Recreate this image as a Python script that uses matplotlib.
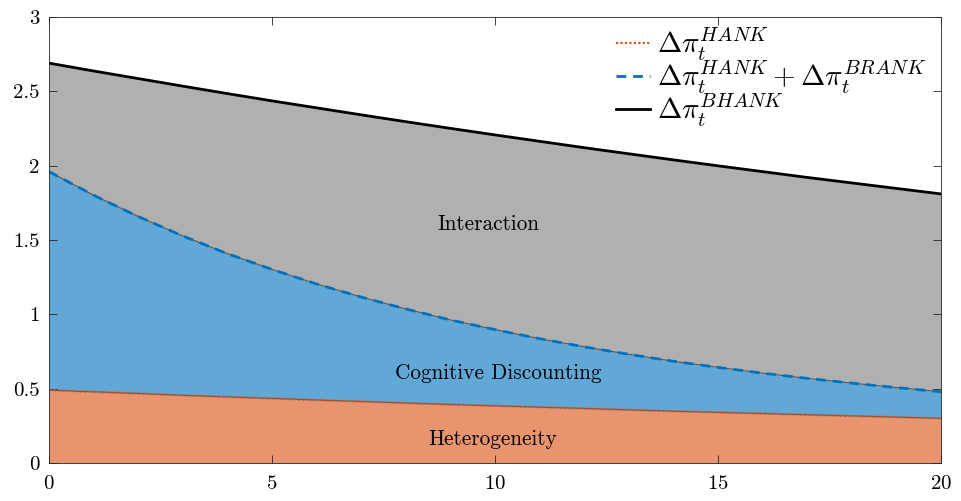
import numpy as np
import matplotlib
matplotlib.use("Agg")
import matplotlib.pyplot as plt

plt.rcParams['font.family'] = 'serif'
plt.rcParams['font.serif'] = ['cmr10', 'DejaVu Serif']
plt.rcParams['mathtext.fontset'] = 'cm'
plt.rcParams['axes.formatter.use_mathtext'] = True

# -----------------------------
# Data
# -----------------------------
periods = np.arange(0, 21)

hank = [0.490, 0.478, 0.467, 0.455, 0.444, 0.434, 0.423, 0.413, 0.403, 0.393, 0.384,
        0.375, 0.366, 0.357, 0.348, 0.340, 0.332, 0.324, 0.316, 0.308, 0.300]

hank_plus_brank = [1.960, 1.801, 1.658, 1.527, 1.408, 1.302, 1.204, 1.116, 1.036, 0.962, 0.897,
                   0.836, 0.781, 0.731, 0.684, 0.643, 0.604, 0.569, 0.537, 0.507, 0.479]

bhank = [2.690, 2.637, 2.586, 2.535, 2.485, 2.436, 2.389, 2.342, 2.296, 2.251, 2.207,
         2.164, 2.121, 2.080, 2.039, 1.999, 1.960, 1.921, 1.884, 1.847, 1.810]

region_labels = ["Heterogeneity", "Cognitive Discounting", "Interaction"]
label_x = [9.95, 10.07, 9.85]
label_y = [0.16, 0.605, 1.605]

legend_labels = [r"$\Delta\pi_t^{HANK}$",
                 r"$\Delta\pi_t^{HANK}+\Delta\pi_t^{BRANK}$",
                 r"$\Delta\pi_t^{BHANK}$"]

# -----------------------------
# Plot
# -----------------------------
fig = plt.figure(figsize=(9.61, 5.01), dpi=100)
ax = fig.add_axes([0.051, 0.076, 0.928, 0.89])

ax.fill_between(periods, 0, hank, color="#E8956F", linewidth=0)
ax.fill_between(periods, hank, hank_plus_brank, color="#62A8D7", linewidth=0)
ax.fill_between(periods, hank_plus_brank, bhank, color="#B0B0B0", linewidth=0)

ax.plot(periods, hank_plus_brank, color="#555555", linewidth=0.8)
ax.plot(periods, hank, color="#555555", linewidth=0.8)

l1, = ax.plot(periods, hank, color="#D95319", linestyle=(0, (1, 1)), linewidth=1.6)
l2, = ax.plot(periods, hank_plus_brank, color="#0072BD", linestyle=(0, (3.5, 2.5)), linewidth=2)
l3, = ax.plot(periods, bhank, color="black", linewidth=2)

for txt, xv, yv in zip(region_labels, label_x, label_y):
    ax.text(xv, yv, txt, ha="center", va="center", fontsize=15.3)

ax.set_xlim(0, 20)
ax.set_ylim(0, 3)
ax.set_xticks([0, 5, 10, 15, 20])
ax.set_yticks([0, 0.5, 1, 1.5, 2, 2.5, 3])
ax.set_yticklabels(["0", "0.5", "1", "1.5", "2", "2.5", "3"])
ax.tick_params(direction="in", length=6, width=0.6, color="#262626",
               labelsize=15, top=True, right=True)
ax.tick_params(axis="x", pad=9)
ax.tick_params(axis="y", pad=7)
for s in ax.spines.values():
    s.set_color("#262626")
    s.set_linewidth(0.6)

ax.legend([l1, l2, l3], legend_labels, loc="upper right", frameon=False,
          fontsize=21, handlelength=1.15, handletextpad=0.25, labelspacing=-0.15,
          borderaxespad=0.1, bbox_to_anchor=(1.0, 1.013))

fig.savefig("out.png", dpi=100)
